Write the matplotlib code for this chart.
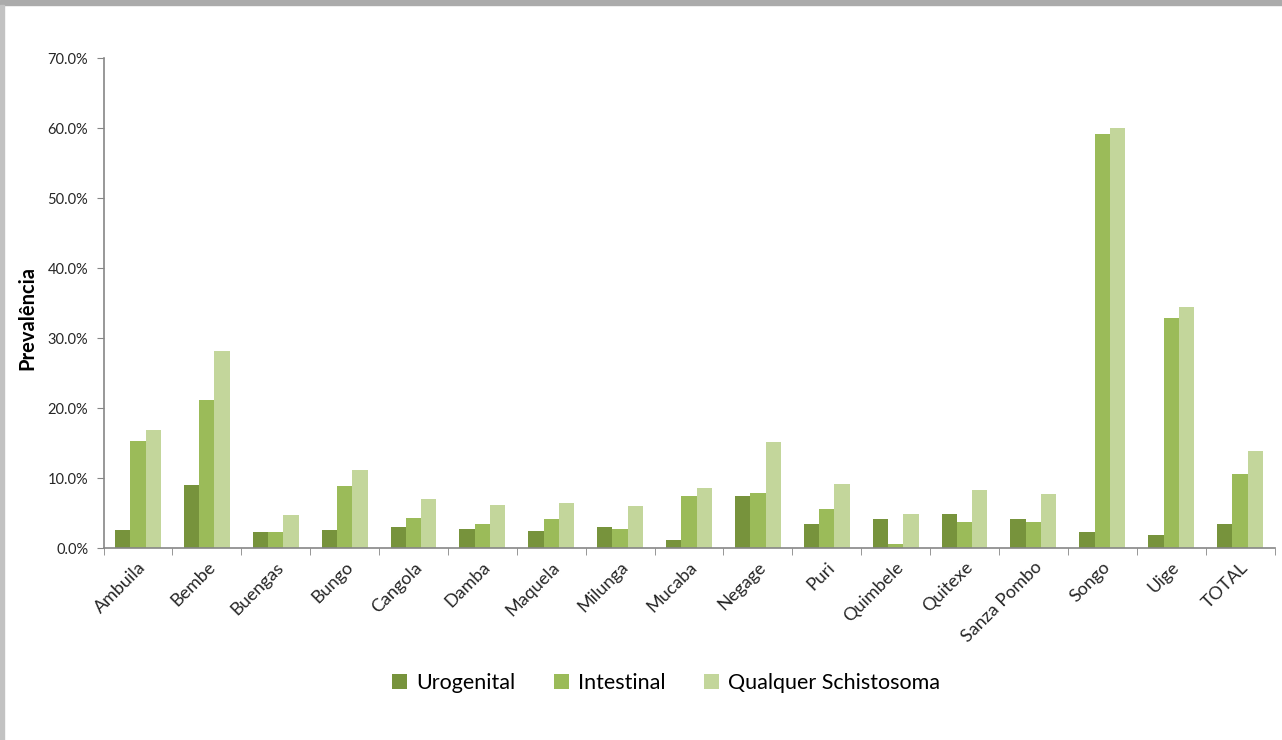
import numpy as np
import matplotlib
matplotlib.use("Agg")
import matplotlib.pyplot as plt
from matplotlib.patches import Rectangle
from matplotlib.ticker import PercentFormatter

# prevalence of schistosomiasis by municipality (%)
municipios = ['Ambuila', 'Bembe', 'Buengas', 'Bungo', 'Cangola', 'Damba', 'Maquela',
              'Milunga', 'Mucaba', 'Negage', 'Puri', 'Quimbele', 'Quitexe',
              'Sanza Pombo', 'Songo', 'Uige', 'TOTAL']
urogenital = [2.6, 9.0, 2.3, 2.6, 3.0, 2.7, 2.5, 3.0, 1.2, 7.5, 3.5, 4.1, 4.9, 4.1, 2.3, 1.8, 3.5]
intestinal = [15.3, 21.2, 2.3, 8.8, 4.3, 3.5, 4.2, 2.7, 7.5, 7.9, 5.6, 0.6, 3.7, 3.7, 59.2, 32.9, 10.6]
qualquer = [16.8, 28.2, 4.7, 11.2, 7.0, 6.2, 6.4, 6.0, 8.6, 15.1, 9.1, 4.9, 8.3, 7.7, 60.0, 34.4, 13.9]

series = [('Urogenital', urogenital, '#77933C'),
          ('Intestinal', intestinal, '#9BBB59'),
          ('Qualquer Schistosoma', qualquer, '#C3D69B')]

plt.rcParams['font.family'] = ['Lato', 'DejaVu Sans']

fig = plt.figure(figsize=(12.82, 7.40), dpi=100)
ax = fig.add_axes([103.5 / 1282, 1 - 548 / 740, (1274.5 - 103.5) / 1282, (548 - 58) / 740])

# shadow border of the chart frame
fig.patches.append(Rectangle((0, 1 - 5 / 740), 1, 5 / 740, transform=fig.transFigure,
                             color='#ababab', zorder=0))
fig.patches.append(Rectangle((0, 0), 4 / 1282, 1 - 5 / 740, transform=fig.transFigure,
                             color='#c2c2c2', zorder=0))

x = np.arange(len(municipios))
w = 0.222
for i, (name, vals, col) in enumerate(series):
    ax.bar(x + (i - 1) * w, vals, width=w, color=col, label=name, zorder=2)

ax.set_xlim(-0.5, len(municipios) - 0.5)
ax.set_ylim(0, 70)
ax.set_yticks(np.arange(0, 71, 10))
ax.yaxis.set_major_formatter(PercentFormatter(decimals=1))
ax.tick_params(axis='y', labelsize=10.5, length=5, color='#868686', labelcolor='#262626', pad=6)

ax.set_xticks(x)
ax.set_xticklabels(municipios, rotation=45, ha='right', rotation_mode='anchor', fontsize=13)
ax.set_xticks(np.arange(-0.5, len(municipios)), minor=True)
ax.tick_params(axis='x', which='major', length=0, pad=8, labelcolor='#262626')
ax.tick_params(axis='x', which='minor', length=5, color='#868686')

for s in ['top', 'right']:
    ax.spines[s].set_visible(False)
for s in ['left', 'bottom']:
    ax.spines[s].set_color('#868686')
    ax.spines[s].set_linewidth(1.2)

ax.set_ylabel('Prevalência', fontsize=14.5, fontweight='bold')
ax.yaxis.set_label_coords(-0.0565, 0.47)

fig.legend(loc='center', bbox_to_anchor=(666 / 1282, 1 - 683 / 740), ncol=3, frameon=False,
           fontsize=15.5, handlelength=0.7, handleheight=0.7, handletextpad=0.4, columnspacing=1.8)

fig.savefig('out.png', dpi=100, facecolor='white')
